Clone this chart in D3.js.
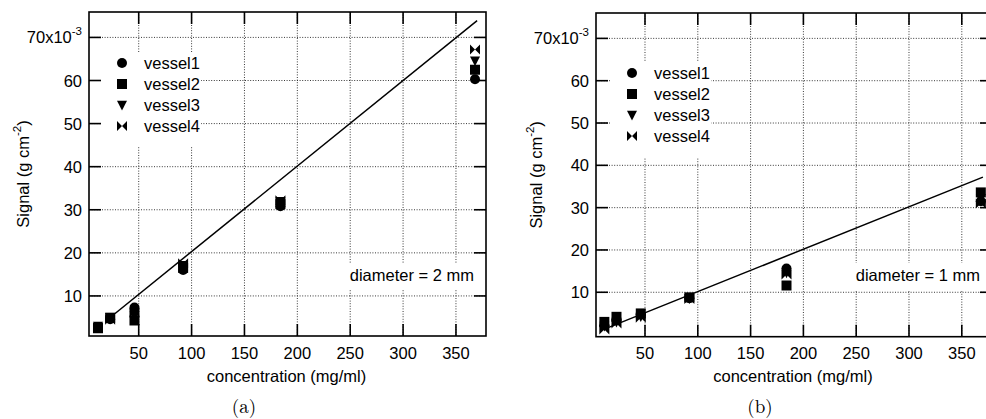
<!DOCTYPE html>
<meta charset="utf-8">
<script src="https://d3js.org/d3.v7.min.js"></script>
<style>
  body { margin: 0; background: #fff; }
  text { font-family: "Liberation Sans", Arial, Helvetica, sans-serif; font-size: 16.5px; fill: #000; }
</style>
<div id="my_dataviz"></div>
<script>
// concentrations (mg/ml) shared by both panels
var conc = [11.5, 23, 46, 92, 184, 368];
var vessels = ["vessel1", "vessel2", "vessel3", "vessel4"];

// panel (a), diameter = 2 mm, signal in 1e-3 g cm^-2
var a_vessel1 = [2.8, 4.6, 7.3, 16.0, 30.8, 60.3];
var a_vessel2 = [2.5, 4.9, 4.3, 16.5, 31.3, 62.5];
var a_vessel3 = [3.0, 5.1, 5.4, 17.1, 32.0, 64.6];
var a_vessel4 = [2.7, 4.5, 6.1, 17.6, 32.2, 67.2];
var a_fitX = [23, 370];
var a_fitY = [5.0, 73.9];

// panel (b), diameter = 1 mm
var b_vessel1 = [2.2, 3.5, 4.8, 8.6, 15.6, 31.5];
var b_vessel2 = [3.0, 4.2, 5.0, 8.8, 11.6, 33.6];
var b_vessel3 = [2.0, 3.0, 4.3, 8.5, 14.6, 32.2];
var b_vessel4 = [1.2, 2.6, 4.0, 8.4, 14.2, 31.0];
var b_fitX = [11.5, 370];
var b_fitY = [1.3, 37.2];

var xTicks = [50, 100, 150, 200, 250, 300, 350];
var yTicks = [10, 20, 30, 40, 50, 60, 70];

var svg = d3.select("#my_dataviz")
  .append("svg")
    .attr("width", 986)
    .attr("height", 419);

// marker shapes, r = half size
function marker(i, r) {
  if (i == 0) return "M" + (-r) + ",0A" + r + "," + r + " 0 1,1 " + r + ",0A" + r + "," + r + " 0 1,1 " + (-r) + ",0Z";
  if (i == 1) return "M" + (-r) + "," + (-r) + "H" + r + "V" + r + "H" + (-r) + "Z";
  if (i == 2) return "M" + (-r) + "," + (-r * 0.85) + "H" + r + "L0," + (r * 1.1) + "Z";
  return "M" + (-r) + "," + (-r) + "L0,0L" + (-r) + "," + r + "ZM" + r + "," + (-r) + "L0,0L" + r + "," + r + "Z";
}

function drawPanel(p) {
  var g = svg.append("g");
  var x = d3.scaleLinear().domain(p.xDomain).range([p.left, p.right]);
  var y = d3.scaleLinear().domain(p.yDomain).range([p.bottom, p.top]);
  var tick = 12;

  // dotted grid
  g.selectAll(".gx").data(xTicks).enter().append("line")
    .attr("x1", function(d) { return x(d); }).attr("x2", function(d) { return x(d); })
    .attr("y1", p.top).attr("y2", p.bottom)
    .attr("stroke", "#222").attr("stroke-width", 0.9).attr("stroke-dasharray", "1,1.6");
  g.selectAll(".gy").data(yTicks).enter().append("line")
    .attr("y1", function(d) { return y(d); }).attr("y2", function(d) { return y(d); })
    .attr("x1", p.left).attr("x2", p.right)
    .attr("stroke", "#222").attr("stroke-width", 0.9).attr("stroke-dasharray", "1,1.6");

  // white boxes behind legend and annotation
  g.append("rect").attr("x", p.legX - 21).attr("y", p.legY - 11)
    .attr("width", 100).attr("height", 95).attr("fill", "#fff");
  g.append("rect").attr("x", p.annX - 130).attr("y", p.annY - 18)
    .attr("width", 133).attr("height", 27).attr("fill", "#fff");

  // frame + inward ticks on all sides
  g.append("rect").attr("x", p.left).attr("y", p.top)
    .attr("width", p.right - p.left).attr("height", p.bottom - p.top)
    .attr("fill", "none").attr("stroke", "#000").attr("stroke-width", 1.6);
  xTicks.forEach(function(d) {
    g.append("line").attr("x1", x(d)).attr("x2", x(d)).attr("y1", p.bottom).attr("y2", p.bottom - tick)
      .attr("stroke", "#000").attr("stroke-width", 1.6);
    g.append("line").attr("x1", x(d)).attr("x2", x(d)).attr("y1", p.top).attr("y2", p.top + tick)
      .attr("stroke", "#000").attr("stroke-width", 1.6);
    g.append("text").attr("x", x(d)).attr("y", 359).attr("text-anchor", "middle").text(d);
  });
  yTicks.forEach(function(d) {
    g.append("line").attr("y1", y(d)).attr("y2", y(d)).attr("x1", p.left).attr("x2", p.left + tick)
      .attr("stroke", "#000").attr("stroke-width", 1.6);
    g.append("line").attr("y1", y(d)).attr("y2", y(d)).attr("x1", p.right).attr("x2", p.right - tick)
      .attr("stroke", "#000").attr("stroke-width", 1.6);
    var t = g.append("text").attr("x", p.left - 7).attr("y", y(d) + 6).attr("text-anchor", "end");
    if (d == 70) {
      t.append("tspan").text("70x10");
      t.append("tspan").attr("dy", -8).style("font-size", "11.5px").text("-3");
    } else {
      t.text(d);
    }
  });

  // fit line
  var line = d3.line().x(function(d) { return x(d[0]); }).y(function(d) { return y(d[1]); });
  g.append("path").datum(d3.zip(p.fitX, p.fitY))
    .attr("d", line).attr("fill", "none").attr("stroke", "#000").attr("stroke-width", 1.5);

  // data points
  p.series.forEach(function(s, i) {
    g.selectAll(".pt" + i).data(d3.zip(conc, s)).enter().append("path")
      .attr("transform", function(d) { return "translate(" + x(d[0]) + "," + y(d[1]) + ")"; })
      .attr("d", marker(i, 5))
      .attr("fill", "#000");
  });

  // legend
  vessels.forEach(function(v, i) {
    var ly = p.legY + i * 21;
    g.append("path").attr("transform", "translate(" + p.legX + "," + ly + ")")
      .attr("d", marker(i, 5)).attr("fill", "#000");
    g.append("text").attr("x", p.legX + 22).attr("y", ly + 6).text(v);
  });

  g.append("text").attr("x", p.annX).attr("y", p.annY).attr("text-anchor", "end").text(p.ann);

  // axis titles
  g.append("text").attr("x", (p.left + p.right) / 2 - 1).attr("y", 382)
    .attr("text-anchor", "middle").text("concentration (mg/ml)");
  var yl = g.append("text")
    .attr("transform", "translate(" + p.yLabX + "," + ((p.top + p.bottom) / 2) + ")rotate(-90)")
    .attr("text-anchor", "middle");
  yl.append("tspan").text("Signal (g cm");
  yl.append("tspan").attr("dy", -8).style("font-size", "11.5px").text("-2");
  yl.append("tspan").attr("dy", 8).text(")");

  g.append("text").attr("x", p.capX).attr("y", 413).attr("text-anchor", "middle")
    .style("font-family", "'Latin Modern Roman', 'DejaVu Serif', 'Liberation Serif', serif")
    .style("font-size", "19px").text(p.cap);
}

drawPanel({
  left: 89, right: 486, top: 12, bottom: 336,
  xDomain: [3, 378.4], yDomain: [0.7, 75.9],
  series: [a_vessel1, a_vessel2, a_vessel3, a_vessel4],
  fitX: a_fitX, fitY: a_fitY,
  legX: 122, legY: 63,
  annX: 474, annY: 281, ann: "diameter = 2 mm",
  yLabX: 29, capX: 244, cap: "(a)"
});

drawPanel({
  left: 596, right: 992, top: 13, bottom: 336.7,
  xDomain: [3.6, 378.6], yDomain: [-0.5, 76],
  series: [b_vessel1, b_vessel2, b_vessel3, b_vessel4],
  fitX: b_fitX, fitY: b_fitY,
  legX: 632, legY: 73,
  annX: 980, annY: 281, ann: "diameter = 1 mm",
  yLabX: 542, capX: 760, cap: "(b)"
});
</script>
